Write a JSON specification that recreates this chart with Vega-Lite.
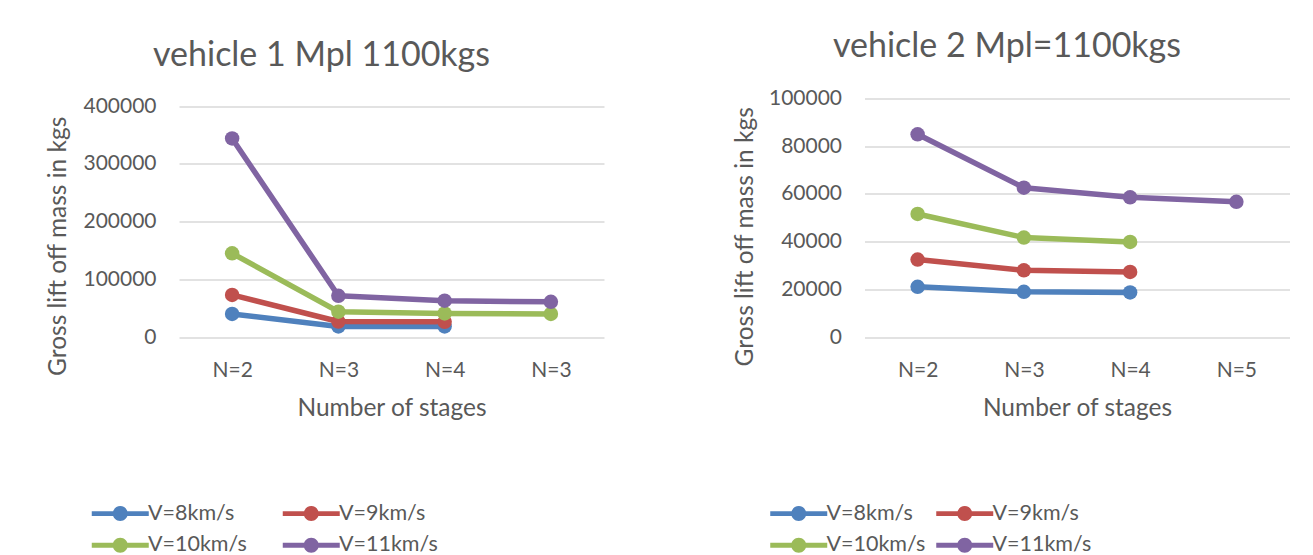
{
  "$schema": "https://vega.github.io/schema/vega-lite/v6.json",
  "background": "white",
  "padding": {"left": 45, "top": 29.5, "right": 5, "bottom": 5},
  "datasets": {
    "v1": [
      {"speed": "V=8km/s", "stage": "N=2", "mass": 40000},
      {"speed": "V=8km/s", "stage": "N=3", "mass": 18500},
      {"speed": "V=8km/s", "stage": "N=4", "mass": 18500},
      {"speed": "V=9km/s", "stage": "N=2", "mass": 73000},
      {"speed": "V=9km/s", "stage": "N=3", "mass": 27000},
      {"speed": "V=9km/s", "stage": "N=4", "mass": 26500},
      {"speed": "V=10km/s", "stage": "N=2", "mass": 145000},
      {"speed": "V=10km/s", "stage": "N=3", "mass": 44000},
      {"speed": "V=10km/s", "stage": "N=4", "mass": 41000},
      {"speed": "V=10km/s", "stage": "N=3 ", "mass": 40000},
      {"speed": "V=11km/s", "stage": "N=2", "mass": 344000},
      {"speed": "V=11km/s", "stage": "N=3", "mass": 71500},
      {"speed": "V=11km/s", "stage": "N=4", "mass": 63000},
      {"speed": "V=11km/s", "stage": "N=3 ", "mass": 61000}
    ],
    "v2": [
      {"speed": "V=8km/s", "stage": "N=2", "mass": 21100},
      {"speed": "V=8km/s", "stage": "N=3", "mass": 19000},
      {"speed": "V=8km/s", "stage": "N=4", "mass": 18700},
      {"speed": "V=9km/s", "stage": "N=2", "mass": 32500},
      {"speed": "V=9km/s", "stage": "N=3", "mass": 28000},
      {"speed": "V=9km/s", "stage": "N=4", "mass": 27300},
      {"speed": "V=10km/s", "stage": "N=2", "mass": 51600},
      {"speed": "V=10km/s", "stage": "N=3", "mass": 41700},
      {"speed": "V=10km/s", "stage": "N=4", "mass": 39900},
      {"speed": "V=11km/s", "stage": "N=2", "mass": 85000},
      {"speed": "V=11km/s", "stage": "N=3", "mass": 62600},
      {"speed": "V=11km/s", "stage": "N=4", "mass": 58600},
      {"speed": "V=11km/s", "stage": "N=5", "mass": 56700}
    ]
  },
  "config": {
    "font": "Lato",
    "view": {"stroke": null},
    "axis": {
      "labelColor": "#595959",
      "titleColor": "#595959",
      "labelFont": "Lato",
      "titleFont": "Lato",
      "titleFontWeight": "normal",
      "domain": false,
      "ticks": false,
      "labelFontSize": 21,
      "titleFontSize": 24.5,
      "gridColor": "#d9d9d9",
      "gridWidth": 1.5
    },
    "title": {"color": "#595959", "fontSize": 34, "fontWeight": "normal", "font": "Lato"},
    "legend": {
      "labelColor": "#595959",
      "labelFont": "Lato",
      "labelFontSize": 21.5,
      "labelOffset": 17,
      "symbolType": "M-3.8,-0.33H3.8V0.33H-3.8Z M-1,0A1,1,0,1,1,1,0A1,1,0,1,1,-1,0Z",
      "symbolSize": 225,
      "symbolStrokeWidth": 0,
      "symbolOpacity": 1,
      "rowPadding": 9,
      "padding": 0,
      "columns": 2,
      "direction": "horizontal",
      "orient": "none",
      "title": null
    }
  },
  "bounds": "flush",
  "spacing": 260.5,
  "resolve": {
    "scale": {"color": "independent", "y": "independent", "x": "independent"},
    "legend": {"color": "independent"}
  },
  "hconcat": [
    {
      "data": {"name": "v1"},
      "width": 425,
      "height": 238.6,
      "title": {"text": "vehicle 1 Mpl 1100kgs", "frame": "group", "baseline": "alphabetic", "offset": -4.6, "dx": -70},
      "encoding": {
        "x": {
          "field": "stage",
          "type": "ordinal",
          "sort": ["N=2", "N=3", "N=4", "N=3 "],
          "scale": {"type": "point", "padding": 0.5},
          "axis": {
            "title": "Number of stages",
            "labelAngle": 0,
            "labelPadding": 22,
            "grid": false,
            "labelExpr": "trim(datum.value)",
            "titleBaseline": "alphabetic",
            "titleY": 78
          }
        },
        "y": {
          "field": "mass",
          "type": "quantitative",
          "scale": {"domain": [0, 413160], "nice": false},
          "axis": {
            "values": [0, 100000, 200000, 300000, 400000],
            "format": "d",
            "title": "Gross lift off mass in kgs",
            "labelPadding": 23,
            "titleX": -113.5,
            "titleY": 147.3,
            "titleBaseline": "alphabetic",
            "titleAlign": "center"
          }
        },
        "color": {
          "field": "speed",
          "type": "nominal",
          "scale": {
            "domain": ["V=8km/s", "V=9km/s", "V=10km/s", "V=11km/s"],
            "range": ["#4f81bd", "#c0504d", "#9bbb59", "#8064a2"]
          },
          "legend": {
            "legendX": -69.5,
            "legendY": 404,
            "columnPadding": 35,
            "encode": {
              "symbols": {
                "update": {
                  "fill": {"signal": "datum.value === 'V=8km/s' ? '#4f81bd' : datum.value === 'V=9km/s' ? '#c0504d' : datum.value === 'V=10km/s' ? '#9bbb59' : '#8064a2'"},
                  "stroke": {"value": "transparent"},
                  "opacity": {"value": 1}
                }
              }
            }
          }
        }
      },
      "layer": [
        {"mark": {"type": "line", "strokeWidth": 5.5, "strokeCap": "round", "strokeJoin": "round"}},
        {"mark": {"type": "point", "filled": true, "size": 210, "opacity": 1}}
      ]
    },
    {
      "data": {"name": "v2"},
      "width": 425,
      "height": 238.6,
      "title": {"text": "vehicle 2 Mpl=1100kgs", "frame": "group", "baseline": "alphabetic", "offset": -3.6, "dx": -70},
      "encoding": {
        "x": {
          "field": "stage",
          "type": "ordinal",
          "sort": ["N=2", "N=3", "N=4", "N=5"],
          "scale": {"type": "point", "padding": 0.5},
          "axis": {
            "title": "Number of stages",
            "labelAngle": 0,
            "labelPadding": 22,
            "grid": false,
            "titleBaseline": "alphabetic",
            "titleY": 78
          }
        },
        "y": {
          "field": "mass",
          "type": "quantitative",
          "scale": {"domain": [0, 100000], "nice": false},
          "axis": {
            "values": [0, 20000, 40000, 60000, 80000, 100000],
            "format": "d",
            "title": "Gross lift off mass in kgs",
            "labelPadding": 23,
            "titleX": -111.5,
            "titleY": 137.8,
            "titleBaseline": "alphabetic",
            "titleAlign": "center"
          }
        },
        "color": {
          "field": "speed",
          "type": "nominal",
          "scale": {
            "domain": ["V=8km/s", "V=9km/s", "V=10km/s", "V=11km/s"],
            "range": ["#4f81bd", "#c0504d", "#9bbb59", "#8064a2"]
          },
          "legend": {
            "legendX": -76.5,
            "legendY": 404,
            "columnPadding": 10,
            "encode": {
              "symbols": {
                "update": {
                  "fill": {"signal": "datum.value === 'V=8km/s' ? '#4f81bd' : datum.value === 'V=9km/s' ? '#c0504d' : datum.value === 'V=10km/s' ? '#9bbb59' : '#8064a2'"},
                  "stroke": {"value": "transparent"},
                  "opacity": {"value": 1}
                }
              }
            }
          }
        }
      },
      "layer": [
        {"mark": {"type": "line", "strokeWidth": 5.5, "strokeCap": "round", "strokeJoin": "round"}},
        {"mark": {"type": "point", "filled": true, "size": 210, "opacity": 1}}
      ]
    }
  ]
}
